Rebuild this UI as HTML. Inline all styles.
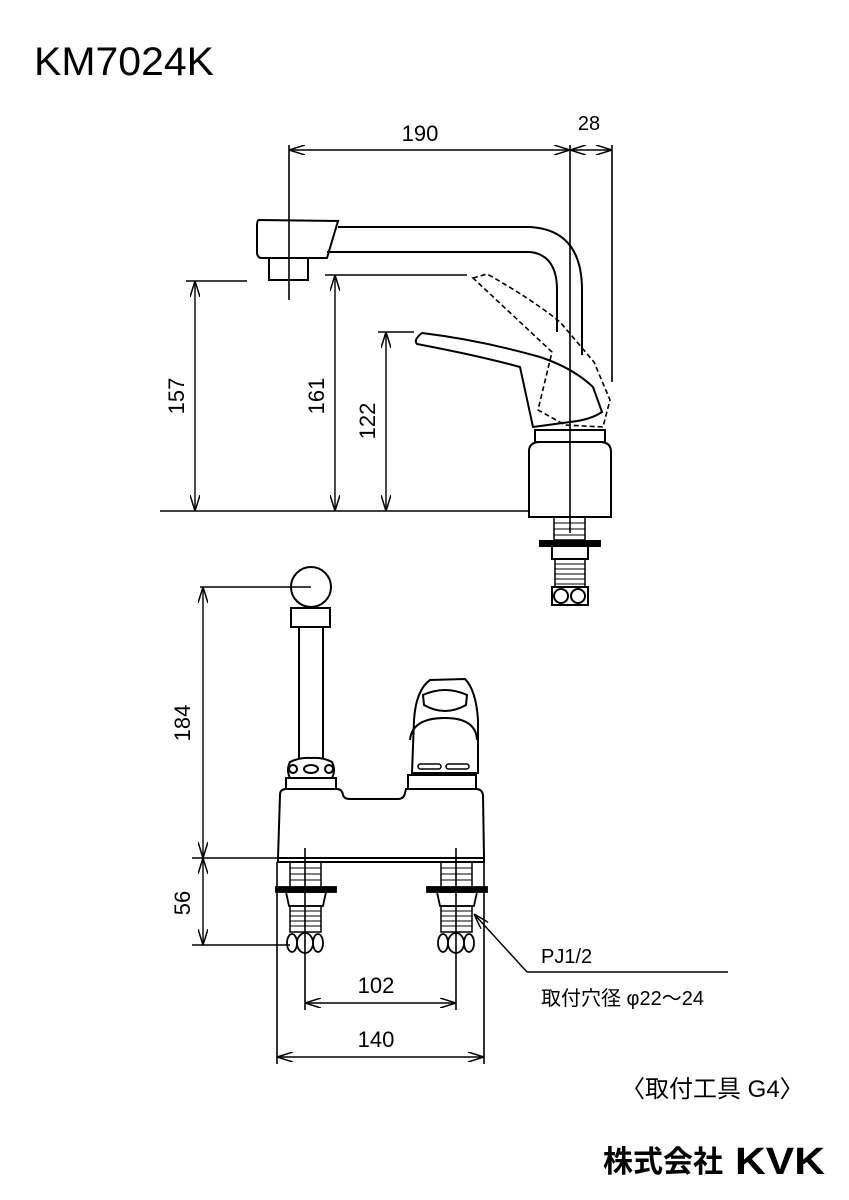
<!DOCTYPE html>
<html><head><meta charset="utf-8"><style>
html,body{margin:0;padding:0;background:#fff;}
svg{display:block;}
text{font-family:"Liberation Sans","Noto Sans CJK JP",sans-serif;fill:#000;}
</style></head><body>
<svg width="849" height="1200" viewBox="0 0 849 1200" xmlns="http://www.w3.org/2000/svg">
<defs>
<marker id="a" viewBox="0 0 16 10" refX="16" refY="5" markerWidth="16" markerHeight="10" orient="auto-start-reverse" markerUnits="userSpaceOnUse">
<path d="M0,0 L16,5 L0,10" fill="none" stroke="#000" stroke-width="1.5"/></marker>
</defs>
<text x="34" y="75" font-size="40" textLength="180" lengthAdjust="spacingAndGlyphs">KM7024K</text>

<g fill="none" stroke="#000" stroke-width="2">
<path d="M259,220 L338,221 L327,258 L262,258 Q257,258 257,252 L257,226 Q257,220 259,220 Z"/>
<rect x="269" y="258" width="39" height="22"/>
<path d="M338,227 L530,227 Q582,230 582,290 L582,355"/>
<path d="M327,252 L530,252 Q557,255 557,290 L557,332"/>
<path d="M422,333 Q480,340 540,357 Q573,368 593,387 L602,412 Q590,420 570,422 L533,427 L520,367 Q480,356 417,344 Q413,340 422,333 Z"/>
<path d="M473,278 L487,274 Q530,298 560,322 L594,362 L610,400 L603,427 L565,425 L538,410 L552,352 Z" stroke-dasharray="5,3" stroke-width="1.6"/>
<rect x="535" y="430" width="70" height="12"/>
<path d="M529,517 L529,450 Q530,442 540,442 L600,442 Q611,442 611,452 L611,517 Z"/>
<rect x="554" y="517" width="31" height="23" stroke-width="1.5"/>
<path d="M554,523 H585 M554,529 H585 M554,535 H585" stroke-width="1"/>
<rect x="540" y="541" width="60" height="5" fill="#000"/>
<rect x="552" y="546" width="36" height="13"/>
<rect x="555" y="559" width="30" height="28" stroke-width="1.5"/>
<path d="M555,564 H585 M555,569 H585 M555,574 H585 M555,579 H585 M555,584 H585" stroke-width="1"/>
<rect x="552" y="587" width="36" height="18"/>
<circle cx="561" cy="596" r="7"/><circle cx="578" cy="596" r="7"/>
<path d="M570,145 V533 M289,145 V300 M612,145 V382" stroke-width="1.6"/>
<path d="M160,511 H529" stroke-width="1.6"/>
<path d="M186,281 H247 M325,275 H467 M378,332 H414" stroke-width="1.6"/>
</g>
<g stroke="#000" stroke-width="1.4" fill="none">
<line x1="289" y1="150" x2="570" y2="150" marker-start="url(#a)" marker-end="url(#a)"/>
<line x1="570" y1="150" x2="612" y2="150" marker-start="url(#a)" marker-end="url(#a)"/>
<line x1="195" y1="281" x2="195" y2="511" marker-start="url(#a)" marker-end="url(#a)"/>
<line x1="335" y1="275" x2="335" y2="511" marker-start="url(#a)" marker-end="url(#a)"/>
<line x1="386" y1="332" x2="386" y2="511" marker-start="url(#a)" marker-end="url(#a)"/>
</g>
<text x="420" y="141" font-size="22" text-anchor="middle">190</text>
<text x="589" y="130" font-size="20" text-anchor="middle">28</text>
<text transform="translate(184,396) rotate(-90)" font-size="22" text-anchor="middle">157</text>
<text transform="translate(324,396) rotate(-90)" font-size="22" text-anchor="middle">161</text>
<text transform="translate(375,421) rotate(-90)" font-size="22" text-anchor="middle">122</text>

<g fill="none" stroke="#000" stroke-width="2">
<circle cx="311" cy="587" r="20"/>
<rect x="291" y="608" width="39" height="19"/>
<path d="M299,627 V759 M323,627 V759"/>
<path d="M290,762 Q300,757 311,758 Q323,757 332,762 Q336,770 332,778 H290 Q286,770 290,762 Z"/>
<ellipse cx="311" cy="769" rx="7" ry="4"/>
<circle cx="293" cy="769" r="4"/><circle cx="329" cy="769" r="4"/>
<rect x="286" y="778" width="50" height="11"/>
<path d="M278,858 L280,795 Q280,789 286,789 L337,789 Q342,789 343,795 Q344,799 350,799 L398,799 Q404,799 405,793 L406,789 L476,789 Q482,789 483,795 L484,858 Z"/>
<rect x="278" y="858" width="206" height="4"/>
<path d="M412,773 L414,720 Q416,690 430,680 L465,679 Q476,690 478,720 L478,773 Z"/>
<path d="M423,695 Q445,685 467,695 L466,705 Q445,717 424,705 Z"/>
<path d="M410,740 Q412,718 445,718 Q476,718 477,740"/>
<rect x="418" y="764" width="23" height="5" rx="2.5" stroke-width="1.5"/>
<rect x="446" y="764" width="23" height="5" rx="2.5" stroke-width="1.5"/>
<rect x="408" y="775" width="68" height="14"/>
</g>
<g id="leg" fill="none" stroke="#000" stroke-width="1.8">
<rect x="290" y="862" width="31" height="27" stroke-width="1.5"/>
<path d="M290,868 H321 M290,874 H321 M290,880 H321" stroke-width="1"/>
<rect x="276" y="887" width="60" height="5" fill="#000"/>
<path d="M286,892 H326 L323,906 H289 Z"/>
<rect x="290" y="906" width="31" height="26" stroke-width="1.5"/>
<path d="M290,911 H321 M290,916 H321 M290,921 H321 M290,926 H321" stroke-width="1"/>
<ellipse cx="305" cy="943" rx="8" ry="10"/>
<ellipse cx="292" cy="943" rx="5" ry="9"/>
<ellipse cx="318" cy="943" rx="5" ry="9"/>
</g>
<use href="#leg" transform="translate(151,0)"/>
<g fill="none" stroke="#000" stroke-width="1.6">
<path d="M305,848 V1010 M456,848 V1010 M277,862 V1064 M484,862 V1064"/>
<path d="M200,587 H311 M192,858 H278 M192,945 H290"/>
<path d="M527,972 H728"/>
</g>
<g stroke="#000" stroke-width="1.4" fill="none">
<line x1="203" y1="587" x2="203" y2="858" marker-start="url(#a)" marker-end="url(#a)"/>
<line x1="203" y1="858" x2="203" y2="945" marker-start="url(#a)" marker-end="url(#a)"/>
<line x1="305" y1="1003" x2="456" y2="1003" marker-start="url(#a)" marker-end="url(#a)"/>
<line x1="277" y1="1057" x2="484" y2="1057" marker-start="url(#a)" marker-end="url(#a)"/>
<line x1="527" y1="972" x2="474" y2="914" marker-end="url(#a)"/>
</g>
<text transform="translate(190,723) rotate(-90)" font-size="22" text-anchor="middle">184</text>
<text transform="translate(190,903) rotate(-90)" font-size="22" text-anchor="middle">56</text>
<text x="376" y="993" font-size="22" text-anchor="middle">102</text>
<text x="376" y="1047" font-size="22" text-anchor="middle">140</text>
<text x="541" y="963" font-size="20">PJ1/2</text>
<text x="541" y="1005" font-size="20">取付穴径 φ22～24</text>
<text x="621" y="1097" font-size="24">〈取付工具 G4〉</text>
<text x="603" y="1172" font-size="30" font-weight="bold">株式会社</text>
<text x="735" y="1174" font-size="38" font-weight="bold" textLength="90" lengthAdjust="spacingAndGlyphs">KVK</text>
</svg>
</body></html>
